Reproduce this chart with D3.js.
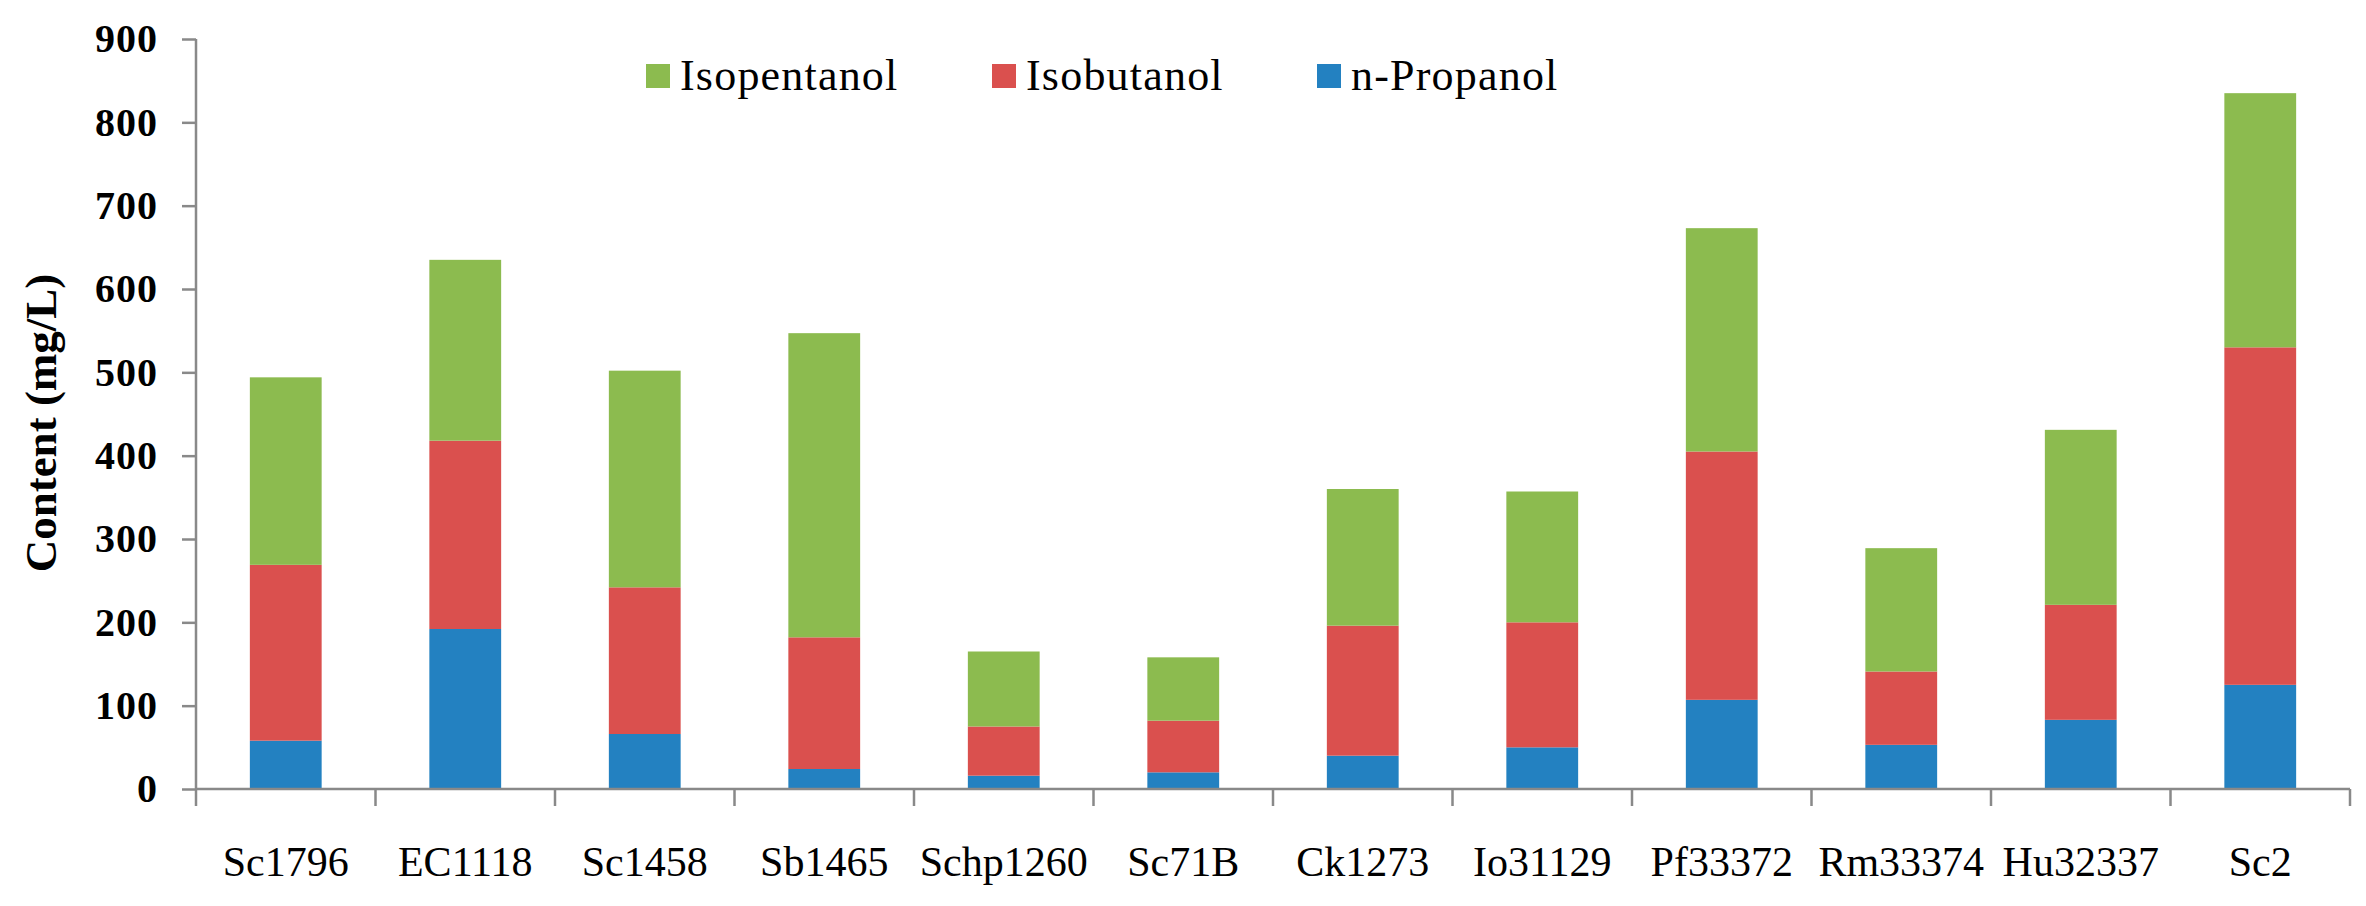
<!DOCTYPE html>
<html>
<head>
<meta charset="utf-8">
<script src="https://cdn.jsdelivr.net/npm/d3@7"></script>
<style>
  body { margin: 0; background: #fff; }
</style>
</head>
<body>
<div id="canvas"></div>
<script>
// data (mg/L)
const strains = ["Sc1796", "EC1118", "Sc1458", "Sb1465", "Schp1260", "Sc71B",
    "Ck1273", "Io31129", "Pf33372", "Rm33374", "Hu32337", "Sc2"];
const nPropanol = [58, 192, 66, 24, 16, 20, 40, 50, 107, 53, 83, 125];
const isobutanol = [211, 226, 176, 158, 59, 62, 156, 150, 298, 88, 138, 405];
const isopentanol = [225, 217, 260, 365, 90, 76, 164, 157, 268, 148, 210, 305];
const yTicks = [0, 100, 200, 300, 400, 500, 600, 700, 800, 900];

const keys = ["n-Propanol", "Isobutanol", "Isopentanol"];
const colors = { "n-Propanol": "#2381c1", "Isobutanol": "#da504e", "Isopentanol": "#8cbb4f" };

const rows = strains.map((s, i) => ({
    name: s,
    "n-Propanol": nPropanol[i],
    "Isobutanol": isobutanol[i],
    "Isopentanol": isopentanol[i]
}));

const width = 2366;
const height = 906;
const axisColor = "#898989";

const svg = d3.select("#canvas").append("svg")
    .attr("width", width)
    .attr("height", height);

const x = d3.scaleBand()
    .domain(strains)
    .range([196, 2350])
    .paddingInner(0.6)
    .paddingOuter(0.3);

const y = d3.scaleLinear()
    .domain([0, 900])
    .range([789, 39]);

const series = d3.stack().keys(keys)(rows);

svg.append("g").selectAll("g").data(series).enter().append("g")
    .attr("fill", d => colors[d.key])
    .selectAll("rect").data(d => d).enter().append("rect")
    .attr("x", d => x(d.data.name))
    .attr("y", d => y(d[1]))
    .attr("width", x.bandwidth())
    .attr("height", d => y(d[0]) - y(d[1]));

// y axis
const yAxis = svg.append("g")
    .attr("transform", "translate(196,0)")
    .call(d3.axisLeft(y).tickValues(yTicks).tickSize(14).tickPadding(24));
yAxis.select(".domain").attr("stroke", axisColor).attr("stroke-width", 2.5)
    .attr("d", `M0,${y(900)}V${y(0)}`);
yAxis.selectAll(".tick line").attr("stroke", axisColor).attr("stroke-width", 2.5);
yAxis.selectAll(".tick text")
    .style("font-family", "'Liberation Serif', serif")
    .style("font-weight", "bold")
    .style("font-size", "40px")
    .style("letter-spacing", "1px")
    .attr("fill", "#000");

// x axis with ticks between categories
const xAxis = svg.append("g")
    .attr("transform", `translate(0,${y(0)})`);
xAxis.append("line")
    .attr("x1", 196).attr("x2", 2350)
    .attr("stroke", axisColor).attr("stroke-width", 2.5);
const edges = strains.map(s => x(s) - x.step() * x.paddingOuter()).concat([2350]);
xAxis.selectAll(".sep").data(edges).enter().append("line")
    .attr("x1", d => d).attr("x2", d => d)
    .attr("y1", 0).attr("y2", 17)
    .attr("stroke", axisColor).attr("stroke-width", 2.5);
xAxis.selectAll(".lbl").data(strains).enter().append("text")
    .attr("x", d => x(d) + x.bandwidth() / 2)
    .attr("y", 87)
    .attr("text-anchor", "middle")
    .style("font-family", "'Liberation Serif', serif")
    .style("font-size", "42px")
    .text(d => d);

// y title
svg.append("text")
    .attr("transform", "translate(56,423) rotate(-90)")
    .attr("text-anchor", "middle")
    .style("font-family", "'Liberation Serif', serif")
    .style("font-weight", "bold")
    .style("font-size", "45px")
    .text("Content (mg/L)");

// legend
const legendItems = ["Isopentanol", "Isobutanol", "n-Propanol"];
const legendX = [646, 992, 1317];
const legend = svg.append("g").selectAll("g").data(legendItems).enter().append("g")
    .attr("transform", (d, i) => `translate(${legendX[i]},64)`);
legend.append("rect")
    .attr("width", 24).attr("height", 24)
    .attr("fill", d => colors[d]);
legend.append("text")
    .attr("x", 34).attr("y", 26)
    .style("font-family", "'Liberation Serif', serif")
    .style("font-size", "44px")
    .style("letter-spacing", "1.2px")
    .text(d => d);
</script>
</body>
</html>
